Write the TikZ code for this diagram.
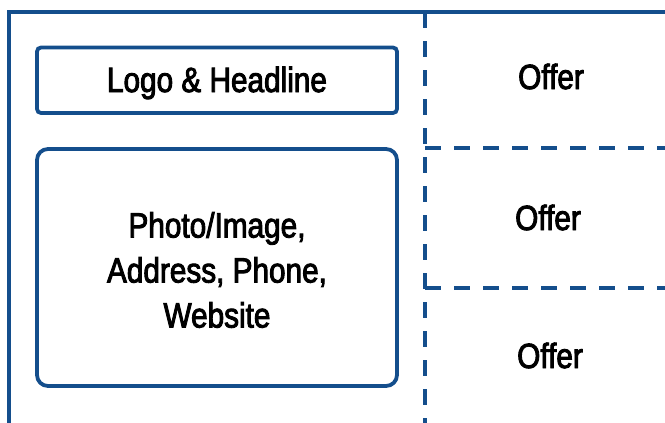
\documentclass[tikz,border=0pt]{standalone}
\usepackage{fontspec}
\setmainfont{Liberation Sans}[FakeStretch=0.85, FakeBold=2.6]
\definecolor{frameblue}{HTML}{144E8C}
\tikzset{
  solidline/.style={draw=frameblue, line width=3.8pt},
  dashline/.style={draw=frameblue, line width=3.8pt, dash pattern=on 16pt off 13pt},
  lbl/.style={inner sep=0pt, font=\fontsize{35}{45}\selectfont, text=black},
}
\begin{document}
\begin{tikzpicture}[x=1pt,y=-1pt]
\useasboundingbox (0,0) rectangle (665,423);
\clip (0,0) rectangle (665,423);
% outer frame (cut by the page edges)
\coordinate (fbl) at (9,430);
\coordinate (ftl) at (9,12);
\coordinate (ftr) at (670,12);
\draw[solidline] (fbl) -- (ftl) -- (ftr);
% boxes on the left
\draw[solidline, rounded corners=4pt] (37,47.5) rectangle (397,113);
\draw[solidline, rounded corners=11pt] (37,149) rectangle (397,386);
% dashed divisions on the right
\coordinate (vt) at (425,12);
\coordinate (vb) at (425,430);
\coordinate (h1a) at (425,148);
\coordinate (h1b) at (670,148);
\coordinate (h2a) at (425,288);
\coordinate (h2b) at (670,288);
\draw[dashline] (vt) -- (vb);
\draw[dashline] (h1a) -- (h1b);
\draw[dashline] (h2a) -- (h2b);
% texts
\node[lbl, anchor=base] (logo) at (217,92) {Logo \& Headline};
\node[lbl, align=center] (photo) at (217,270) {Photo/Image,\\Address, Phone,\\Website};
\node[lbl, anchor=base] (offer1) at (551,89) {Offer};
\node[lbl, anchor=base] (offer2) at (548,230) {Offer};
\node[lbl, anchor=base] (offer3) at (550,368) {Offer};
\end{tikzpicture}
\end{document}
